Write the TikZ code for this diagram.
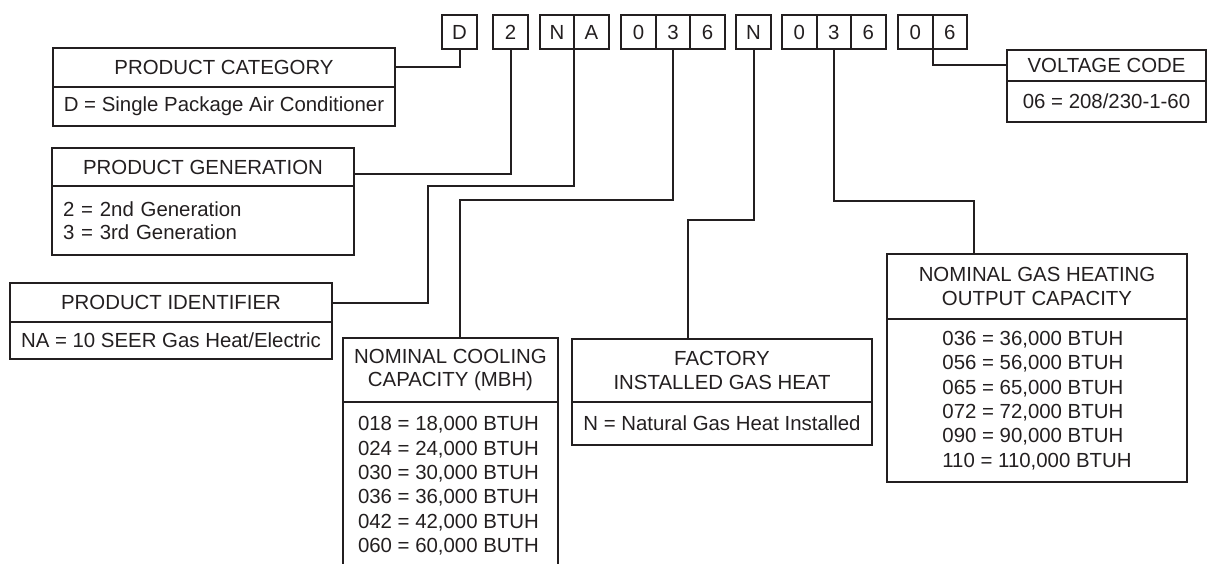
\documentclass[tikz,border=0pt]{standalone}
\usepackage{fontspec}
\setmainfont{Liberation Sans}
\definecolor{ink}{RGB}{35,31,32}
\begin{document}
\begin{tikzpicture}[x=1pt,y=-1pt,color=ink,line width=2pt,
  font=\fontsize{20.4}{23.5}\selectfont,
  every node/.style={outer sep=0pt},
  cell/.style={draw,minimum width=34.5pt,minimum height=34pt,inner sep=0pt,anchor=center},
  hd/.style={draw,anchor=north west,inner sep=0pt,align=center},
  bd/.style={draw,anchor=north west,inner sep=0pt,align=center},
  listtext/.style={font=\fontsize{20.4}{24.4}\selectfont,align=left,inner sep=0pt},
  wire/.style={line width=2pt}]
\useasboundingbox (0,0) rectangle (1207,564);

% code cells
\node[cell] (cD)  at (459.5,32) {D};
\node[cell] (c2)  at (510.5,32) {2};
\node[cell] (cN1) at (557,32) {N};
\node[cell] (cA)  at (591.5,32) {A};
\node[cell] (c0a) at (638.5,32) {0};
\node[cell] (c3a) at (673,32) {3};
\node[cell] (c6a) at (707.5,32) {6};
\node[cell] (cN2) at (753.5,32) {N};
\node[cell] (c0b) at (799.25,32) {0};
\node[cell] (c3b) at (833.75,32) {3};
\node[cell] (c6b) at (868.25,32) {6};
\node[cell] (c0c) at (915.25,32) {0};
\node[cell] (c6c) at (949.75,32) {6};

% product category
\node[hd,minimum width=342pt,minimum height=39pt] (cathead) at (53,48) {PRODUCT CATEGORY};
\node[bd,minimum width=342pt,minimum height=39pt] (catbody) at (cathead.south west) {D = Single Package Air Conditioner};

% product generation
\node[hd,minimum width=302pt,minimum height=38pt] (genhead) at (52,148) {PRODUCT GENERATION};
\node[bd,align=left,text width=280pt,inner xsep=11pt,inner ysep=0pt,minimum height=69pt,font=\fontsize{20.4}{23}\selectfont] (genbody) at (genhead.south west) {2 = 2nd Generation\\3 = 3rd Generation};

% product identifier
\node[hd,minimum width=322pt,minimum height=39pt] (idhead) at (10,283) {PRODUCT IDENTIFIER};
\node[bd,minimum width=322pt,minimum height=37pt] (idbody) at (idhead.south west) {NA = 10 SEER Gas Heat/Electric};

% nominal cooling capacity
\node[hd,minimum width=215pt,minimum height=64pt] (coolhead) at (343,338) {NOMINAL COOLING\\CAPACITY (MBH)};
\coordinate (kBottom) at (0,566);
\draw (coolhead.south west) -- (coolhead.south west |- kBottom);
\draw (coolhead.south east) -- (coolhead.south east |- kBottom);
\node[listtext,anchor=north west] (coollist) at (358,416.5) {018 = 18,000 BTUH\\024 = 24,000 BTUH\\030 = 30,000 BTUH\\036 = 36,000 BTUH\\042 = 42,000 BTUH\\060 = 60,000 BUTH};

% factory installed gas heat
\node[hd,minimum width=300pt,minimum height=63pt] (facthead) at (572,339) {FACTORY\\INSTALLED GAS HEAT};
\node[bd,minimum width=300pt,minimum height=43pt] (factbody) at (facthead.south west) {N = Natural Gas Heat Installed};

% nominal gas heating output capacity
\node[hd,minimum width=300pt,minimum height=65pt] (heathead) at (887,254) {NOMINAL GAS HEATING\\OUTPUT CAPACITY};
\node[bd,listtext,anchor=north west,minimum width=300pt,minimum height=163pt] (heatbody) at (heathead.south west) {036 = 36,000 BTUH\\056 = 56,000 BTUH\\065 = 65,000 BTUH\\072 = 72,000 BTUH\\090 = 90,000 BTUH\\110 = 110,000 BTUH};

% voltage code
\node[hd,minimum width=199pt,minimum height=31pt] (volthead) at (1007,50) {VOLTAGE CODE};
\node[bd,minimum width=199pt,minimum height=41pt] (voltbody) at (volthead.south west) {06 = 208/230-1-60};

% connectors
\coordinate (kGen) at (0,174);
\coordinate (kNA) at (428,186);
\coordinate (kCool) at (460,200);
\coordinate (kFac) at (688,220);
\coordinate (kHeat) at (974,201);
\draw[wire] (cD.south) |- (cathead.east);
\draw[wire] (c2.south) |- (genhead.east |- kGen);
\draw[wire] (cA.south west) |- (kNA) |- (idhead.east);
\draw[wire] (c3a.south) |- (kCool) -- (kCool |- coolhead.north);
\draw[wire] (cN2.south) |- (kFac) -- (kFac |- facthead.north);
\draw[wire] (c3b.south) |- (kHeat) -- (kHeat |- heathead.north);
\draw[wire] (c0c.south east) |- (volthead.west);
\end{tikzpicture}
\end{document}
